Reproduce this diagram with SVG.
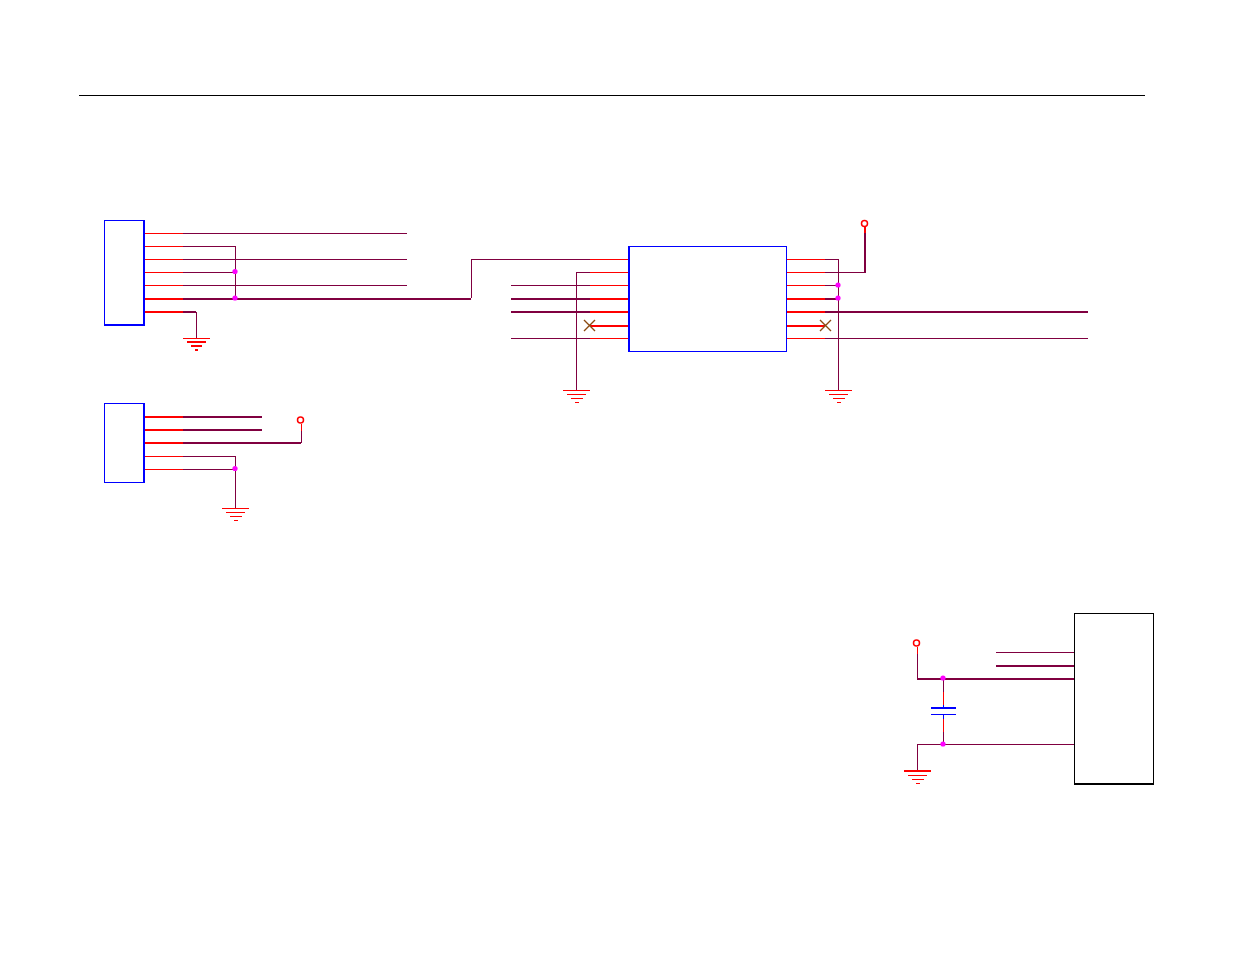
<svg xmlns="http://www.w3.org/2000/svg" width="1235" height="954" viewBox="0 0 1235 954">
<style>
.w{fill:none;stroke:#800040;stroke-width:1;shape-rendering:crispEdges}
.b{fill:none;stroke:#800040;stroke-width:2;shape-rendering:crispEdges}
.r{fill:none;stroke:#ff0000;stroke-width:1;shape-rendering:crispEdges}
.rb{fill:none;stroke:#ff0000;stroke-width:2;shape-rendering:crispEdges}
.box{fill:#fff;stroke:#0000ff;stroke-width:1;shape-rendering:crispEdges}
.edge{fill:none;stroke:#0000ff;stroke-width:2;shape-rendering:crispEdges}
.dot{fill:#ff00ff}
.ring{fill:#fff;stroke:#ff0000;stroke-width:1.5}
.x{fill:none;stroke:#8b4a10;stroke-width:1.4}
</style>
<defs>
<g id="gnd">
<path class="r" d="M-13.5 0.500H13.5"/>
<path class="r" d="M-9.5 4.500H9.5"/>
<path class="r" d="M-6 8.500H6"/>
<path class="r" d="M-2 12.500H2"/>
</g>
<g id="gndj1">
<path class="r" d="M-13.5 0.500H13.5"/>
<path class="rb" d="M-9.5 4H9.5"/>
<path class="rb" d="M-5.500 8H5.500"/>
<path class="rb" d="M-1.500 12H1.500"/>
</g>
<g id="gndb">
<path class="rb" d="M-13.5 0H13.5"/>
<path class="r" d="M-9.5 4.500H9.5"/>
<path class="r" d="M-6 8.500H6"/>
<path class="r" d="M-2 12.500H2"/>
</g>
<path id="nc" class="x" d="M-5.500 -5.500L5.500 5.500M-5.500 5.500L5.500 -5.500"/>
</defs>
<path id="title-rule" d="M79 95.500H1145" fill="none" stroke="#000" stroke-width="1" shape-rendering="crispEdges"/>
<g id="connectors">
<path class="w" d="M183 233.500H407M183 259.500H407M183 285.500H407"/>
<path class="w" d="M183 246.500H235.500V298M183 272.500H235"/>
<path class="b" d="M183 299H471"/>
<path class="w" d="M471.500 298V259.500H590"/>
<path class="b" d="M183 312H196"/>
<path class="w" d="M196.500 312V338"/>
<path class="b" d="M183 417H262M183 430H262M183 443H301"/>
<path class="w" d="M301.500 443V431"/>
<path class="r" d="M301.500 431V424"/>
<path class="w" d="M183 456.500H235.500V508M183 469.500H235"/>
<path class="w" d="M590 272.500H576.500V390"/>
<path class="w" d="M511 285.500H590M511 338.500H590"/>
<path class="b" d="M511 299H590M511 312H590"/>
<path class="w" d="M825 259.500H838.500V390"/>
<path class="w" d="M825 272.500H865"/>
<path class="b" d="M865 273V233"/>
<path class="rb" d="M865 233V227"/>
<path class="w" d="M825 285.500H838"/>
<path class="b" d="M825 299H838"/>
<path class="b" d="M825 312H1088"/>
<path class="w" d="M825 338.500H1088"/>
<path class="w" d="M917.500 678V654"/>
<path class="r" d="M917.500 654V647"/>
<path class="b" d="M917 679H1074M996 666H1074"/>
<path class="w" d="M996 652.500H1074"/>
<path class="w" d="M943.500 679V692M943.500 732V744"/>
<path class="w" d="M917.500 770V744.500H1074"/>
</g>
<g id="J1">
<rect class="box" x="104.500" y="220.500" width="39" height="104"/>
<path class="edge" d="M144 220V326M104 325H145"/>
<path class="r" d="M145 233.500H183M145 246.500H183M145 259.500H183M145 272.500H183M145 285.500H183"/>
<path class="rb" d="M145 299H183M145 312H183"/>
</g>
<g id="J2">
<rect class="box" x="104.500" y="403.500" width="39" height="79"/>
<path class="edge" d="M144 403V483"/>
<path class="rb" d="M145 417H183M145 430H183M145 443H183"/>
<path class="r" d="M145 456.500H183M145 469.500H183"/>
</g>
<g id="U1">
<rect class="box" x="628.500" y="246.500" width="158" height="105"/>
<path class="edge" d="M629 246V352"/>
<path class="r" d="M590 259.500H628M590 272.500H628M590 285.500H628M590 338.500H628"/>
<path class="rb" d="M590 299H628M590 312H628M590 325.500H628"/>
<path class="r" d="M787 259.500H825M787 272.500H825M787 285.500H825M787 338.500H825"/>
<path class="rb" d="M787 299H825M787 312H825M787 325.500H825"/>
<use href="#nc" x="589.500" y="325.500"/>
<use href="#nc" x="825.500" y="325.500"/>
</g>
<g id="U2">
<rect x="1074.500" y="613.500" width="79" height="170" fill="#fff" stroke="#000" stroke-width="1" shape-rendering="crispEdges"/>
<path d="M1074 784H1154" fill="none" stroke="#000" stroke-width="2" shape-rendering="crispEdges"/>
</g>
<g id="C1">
<path class="r" d="M943.500 692V705M943.500 719V732"/>
<path class="edge" d="M931 708H956"/>
<path d="M931 714.500H956M943.500 705V707M943.500 715V719" fill="none" stroke="#0000ff" stroke-width="1" shape-rendering="crispEdges"/>
</g>
<g id="junctions">
<circle class="dot" cx="235" cy="271.500" r="2.600"/>
<circle class="dot" cx="235" cy="298" r="2.600"/>
<circle class="dot" cx="235" cy="468.500" r="2.600"/>
<circle class="dot" cx="838" cy="285" r="2.600"/>
<circle class="dot" cx="838" cy="298" r="2.600"/>
<circle class="dot" cx="943" cy="678" r="2.600"/>
<circle class="dot" cx="943" cy="744" r="2.600"/>
</g>
<g id="power">
<circle class="ring" cx="864.500" cy="223.500" r="3"/>
<circle class="ring" cx="300.500" cy="420" r="3"/>
<circle class="ring" cx="916.500" cy="643" r="3"/>
<use href="#gndj1" x="196.500" y="338"/>
<use href="#gnd" x="235.500" y="508"/>
<use href="#gnd" x="576.500" y="390"/>
<use href="#gnd" x="838.500" y="390"/>
<use href="#gndb" x="917.500" y="771"/>
</g>
</svg>
